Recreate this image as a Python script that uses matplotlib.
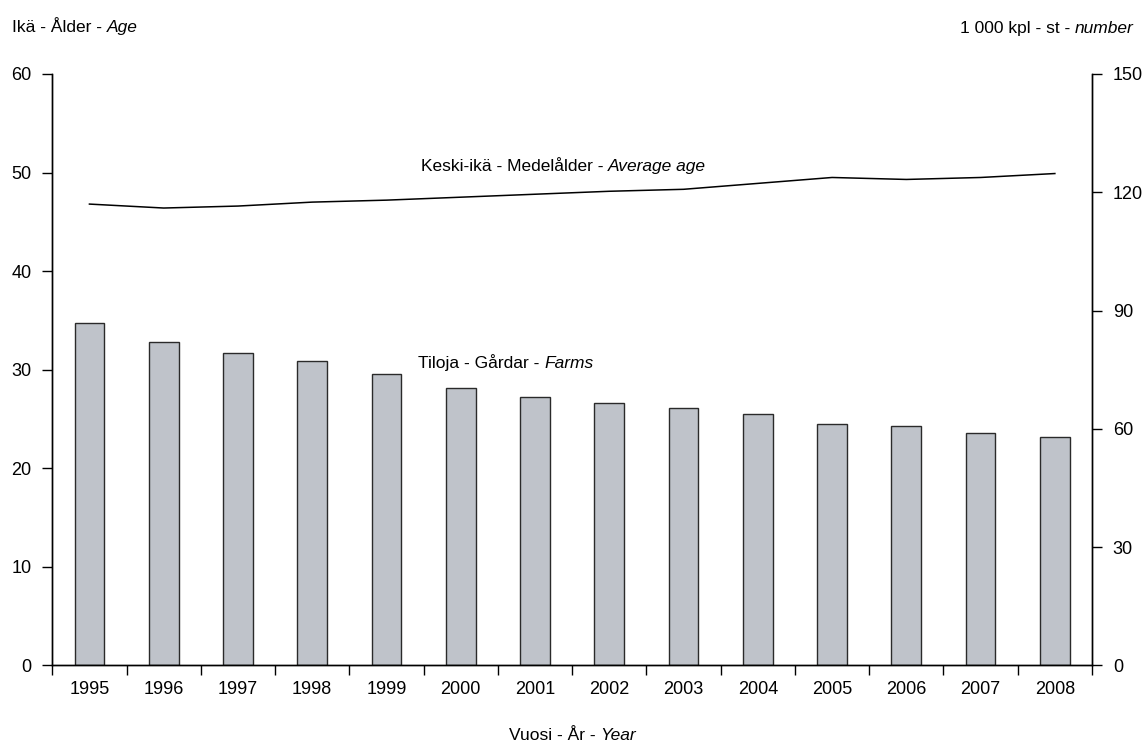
import numpy as np
import matplotlib
matplotlib.use("Agg")
import matplotlib.pyplot as plt

plt.rcParams['font.family'] = ['Liberation Sans Narrow', 'Liberation Sans', 'DejaVu Sans']

# Data
years = ['1995', '1996', '1997', '1998', '1999', '2000', '2001',
         '2002', '2003', '2004', '2005', '2006', '2007', '2008']
farms = [86.8, 82.0, 79.2, 77.1, 73.8, 70.4, 68.0, 66.5, 65.2, 63.7, 61.3, 60.8, 58.9, 58.0]  # 1 000
avg_age = [46.8, 46.4, 46.6, 47.0, 47.2, 47.5, 47.8, 48.1, 48.3, 48.9, 49.5, 49.3, 49.5, 49.9]

W, H = 1146, 745
fig = plt.figure(figsize=(W / 100, H / 100), dpi=100)
left, right, top, bottom = 52.3, 1092, 74, 665.3
ax = fig.add_axes([left / W, 1 - bottom / H, (right - left) / W, (bottom - top) / H])
ax2 = ax.twinx()

x = np.arange(len(years))
ax2.bar(x, farms, width=0.4, color='#bfc3ca', edgecolor='#2a2a2a', linewidth=1.0)
ax.plot(x, avg_age, color='black', linewidth=1.1)

ax.set_zorder(ax2.get_zorder() + 1)
ax.patch.set_visible(False)

ax.set_xlim(-0.5, len(years) - 0.5)
ax.set_ylim(0, 60)
ax2.set_ylim(0, 150)
ax.set_yticks(range(0, 61, 10))
ax2.set_yticks(range(0, 151, 30))

# ticks between categories, labels at centres
ax.set_xticks(np.arange(-0.5, len(years), 1))
ax.set_xticklabels([])
ax.set_xticks(x, minor=True)
ax.set_xticklabels(years, minor=True)
tls = 13
ax.tick_params(axis='x', which='major', direction='out', length=7, width=1)
ax.tick_params(axis='x', which='minor', length=0, pad=11, labelsize=tls)
ax.tick_params(axis='y', direction='out', length=7, width=1, pad=8, labelsize=tls)
ax2.tick_params(axis='y', direction='out', length=7, width=1, pad=8, labelsize=tls)

for a in (ax, ax2):
    a.spines['top'].set_visible(False)
    for s in ('left', 'right', 'bottom'):
        a.spines[s].set_linewidth(1)

fs = 12.5


def two_part(x0, y0, plain, ital, ha='left'):
    if ha == 'left':
        t = fig.text(x0, y0, plain, fontsize=fs, ha='left', va='baseline')
        ax.annotate(ital, xy=(1, 0), xycoords=t, fontsize=fs, style='italic',
                    ha='left', va='bottom', annotation_clip=False)
    else:
        t = fig.text(x0, y0, ital, fontsize=fs, style='italic', ha='right', va='baseline')
        ax.annotate(plain, xy=(0, 0), xycoords=t, fontsize=fs,
                    ha='right', va='bottom', annotation_clip=False)


two_part(11.7 / W, 1 - 31.7 / H, 'Ikä - Ålder - ', 'Age')
two_part(1133.5 / W, 1 - 33.3 / H, '1 000 kpl - st - ', 'number', ha='right')
two_part(509 / W, 1 - 740 / H, 'Vuosi - År - ', 'Year')

t1 = ax.text(4.46, 50.2, 'Keski-ikä - Medelålder - ', fontsize=fs, ha='left', va='baseline')
ax.annotate('Average age', xy=(1, 0), xycoords=t1, fontsize=fs, style='italic',
            ha='left', va='bottom')
t2 = ax.text(4.43, 30.15, 'Tiloja - Gårdar - ', fontsize=fs, ha='left', va='baseline')
ax.annotate('Farms', xy=(1, 0), xycoords=t2, fontsize=fs, style='italic',
            ha='left', va='bottom')

fig.savefig('out.png', dpi=100)
